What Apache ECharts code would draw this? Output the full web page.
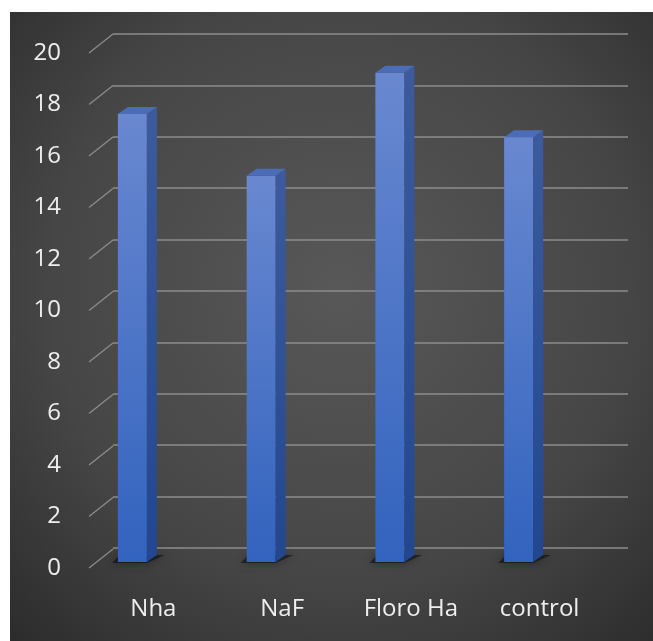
<!DOCTYPE html>
<html>
<head>
<meta charset="utf-8">
<script src="https://cdn.jsdelivr.net/npm/echarts@6/dist/echarts.min.js"></script>
<style>
html,body{margin:0;padding:0;background:#fff;}
#chart{width:653px;height:641px;}
</style>
</head>
<body>
<div id="chart"></div>
<script>
const categories = ['Nha', 'NaF', 'Floro Ha', 'control'];
const values = [17.4, 15, 19, 16.5];
const yTicks = [0, 2, 4, 6, 8, 10, 12, 14, 16, 18, 20];

const chart = echarts.init(document.getElementById('chart'), null, {renderer: 'canvas'});

const FONT = 'Open Sans';
const gridColor = '#8c8c8c';
const DEPTH_X = 24, DEPTH_Y = -19;   // floor depth (front -> back wall)
const BAR_DX = 10, BAR_DY = -7;      // bar depth

const option = {
  animation: false,
  backgroundColor: {
    type: 'radial', x: 0.52, y: 0.45, r: 0.75,
    colorStops: [
      {offset: 0, color: '#585858'},
      {offset: 0.6, color: '#464646'},
      {offset: 1, color: '#2c2c2c'}
    ]
  },
  graphic: [
    {type: 'rect', shape: {x: 0, y: 0, width: 653, height: 12}, style: {fill: '#ffffff'}, z: 100},
    {type: 'rect', shape: {x: 0, y: 0, width: 10, height: 641}, style: {fill: '#ffffff'}, z: 100}
  ],
  grid: [
    {left: 89, right: 49, top: 53, bottom: 73},   // front plane
    {left: 113, right: 25, top: 34, bottom: 93},  // back wall
    {left: 68, right: 70, top: 47, bottom: 79}    // bar plane
  ],
  xAxis: [
    {type: 'category', data: categories, gridIndex: 0,
     axisLine: {show: false}, axisTick: {show: false}, splitLine: {show: false},
     axisLabel: {color: '#eeeeee', fontFamily: FONT, fontSize: 24, margin: 29}},
    {type: 'category', data: categories, gridIndex: 1, show: false},
    {type: 'category', data: categories, gridIndex: 2, show: false}
  ],
  yAxis: [
    {type: 'value', gridIndex: 0, min: 0, max: 20, interval: 2,
     axisLine: {show: false}, axisTick: {show: false}, splitLine: {show: false},
     axisLabel: {color: '#eeeeee', fontFamily: FONT, fontSize: 24, margin: 28}},
    {type: 'value', gridIndex: 1, min: 0, max: 20, interval: 2,
     axisLine: {show: false}, axisTick: {show: false}, axisLabel: {show: false},
     splitLine: {show: true, lineStyle: {color: gridColor, width: 1.6}}},
    {type: 'value', gridIndex: 2, min: 0, max: 20, interval: 2, show: false}
  ],
  series: [
    {
      type: 'custom',
      xAxisIndex: 0, yAxisIndex: 0,
      data: yTicks.map(v => [0, v]),
      clip: false,
      renderItem: function (params, api) {
        const p = api.coord([0, api.value(1)]);
        const bw = api.size([1, 0])[0];
        const x0 = p[0] - bw / 2;
        return {
          type: 'line',
          shape: {x1: x0, y1: p[1], x2: x0 + DEPTH_X, y2: p[1] + DEPTH_Y},
          style: {stroke: gridColor, lineWidth: 1.3}
        };
      },
      z: 1
    },
    {
      type: 'custom',
      xAxisIndex: 2, yAxisIndex: 2,
      data: values.map((v, i) => [i, v]),
      clip: false,
      renderItem: function (params, api) {
        const i = api.value(0);
        const top = api.coord([i, api.value(1)]);
        const base = api.coord([i, 0]);
        const bw = api.size([1, 0])[0];
        const w = bw * 0.225;
        const x0 = top[0] - w / 2, x1 = top[0] + w / 2;
        const yT = top[1], yB = base[1];
        return {
          type: 'group',
          children: [
            { // floor shadow
              type: 'polygon',
              shape: {points: [[x0 - 6, yB + 1], [x1, yB + 1], [x1 + BAR_DX + 8, yB - 7], [x0 + 2, yB - 7]]},
              style: {fill: 'rgba(0,0,0,0.45)', shadowBlur: 10, shadowColor: 'rgba(0,0,0,0.9)'}
            },
            { // front face
              type: 'rect',
              shape: {x: x0, y: yT, width: w, height: yB - yT},
              style: {fill: new echarts.graphic.LinearGradient(0, 0, 0, 1, [
                {offset: 0, color: '#6988d0'},
                {offset: 1, color: '#3263be'}
              ])}
            },
            { // side face
              type: 'polygon',
              shape: {points: [[x1, yT], [x1 + BAR_DX, yT + BAR_DY], [x1 + BAR_DX, yB + BAR_DY], [x1, yB]]},
              style: {fill: new echarts.graphic.LinearGradient(0, 0, 0, 1, [
                {offset: 0, color: '#3d5b9c'},
                {offset: 1, color: '#22478f'}
              ])}
            },
            { // top face
              type: 'polygon',
              shape: {points: [[x0, yT], [x0 + BAR_DX, yT + BAR_DY], [x1 + BAR_DX, yT + BAR_DY], [x1, yT]]},
              style: {fill: '#4b6db7'}
            }
          ]
        };
      },
      z: 3
    }
  ]
};

chart.setOption(option);
</script>
</body>
</html>
